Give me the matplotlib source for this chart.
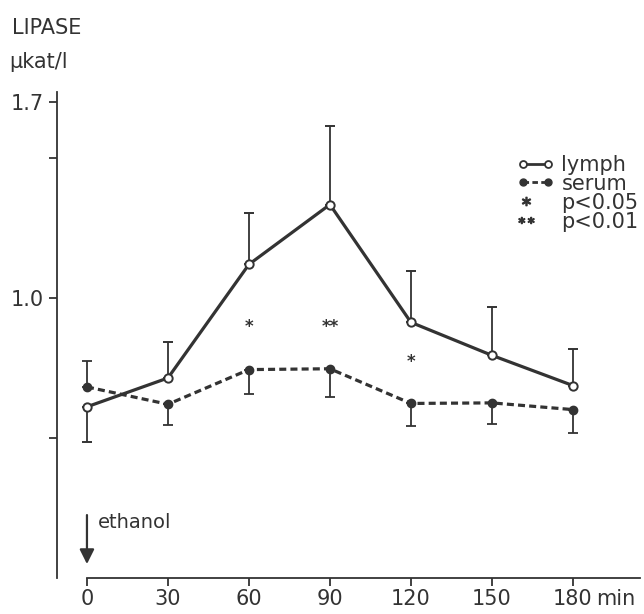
import matplotlib.pyplot as plt
from matplotlib.lines import Line2D
from matplotlib.legend_handler import HandlerLine2D

# values (min after ethanol, lipase in ukat/l)
minutes = [0, 30, 60, 90, 120, 150, 180]
lymph = [0.612, 0.715, 1.121, 1.335, 0.914, 0.796, 0.688]
lymph_lo = [0.126, 0, 0, 0, 0, 0, 0]
lymph_hi = [0, 0.129, 0.184, 0.280, 0.182, 0.173, 0.132]
serum = [0.683, 0.621, 0.745, 0.748, 0.624, 0.626, 0.602]
serum_lo = [0, 0.075, 0.089, 0.100, 0.081, 0.076, 0.082]
serum_hi = [0.093, 0, 0, 0, 0, 0, 0]

# significance marks
star_x = [60, 90, 120]
star_y = [0.898, 0.898, 0.773]
star_lbl = ['*', '**', '*']

plt.rcParams['font.family'] = ['DejaVu Sans']
ink = '#333333'


# legend handler that puts a single marker at the left of the handle
class LeftMark(HandlerLine2D):
    def get_xdata(self, legend, xdescent, ydescent, width, height, fontsize):
        x = [-xdescent + 0.25 * width]
        return x, x


fig = plt.figure(figsize=(6.44, 6.14), dpi=100)
ax = fig.add_axes([0.0885, 0.0586, 0.905, 0.791])
ax.set_xlim(-11.1, 204.8)
ax.set_ylim(0, 1.736)

# lymph: solid with open circles
ax.errorbar(minutes, lymph, yerr=[lymph_lo, lymph_hi], color=ink, lw=2.3,
            marker='o', ms=6, mfc='white', mec=ink, mew=1.4,
            elinewidth=1.3, capsize=3.5, capthick=1.3, zorder=3)
# serum: dashed with filled circles
ax.errorbar(minutes, serum, yerr=[serum_lo, serum_hi], color=ink, lw=2.3,
            ls=(0, (2.2, 1.3)), marker='o', ms=6, mfc=ink, mec=ink,
            elinewidth=1.3, capsize=3.5, capthick=1.3, zorder=3)

for x, y, s in zip(star_x, star_y, star_lbl):
    ax.text(x, y, s, ha='center', va='center', fontsize=12, color=ink,
            fontweight='bold')

# ethanol arrow at time 0
ax.annotate('', xy=(0, 0.04), xytext=(0, 0.235),
            arrowprops=dict(arrowstyle='-|>', color=ink, lw=1.6,
                            mutation_scale=22))
ax.text(4, 0.2, 'ethanol', fontsize=14, color=ink, va='center')

# axes look
for side in ['top', 'right']:
    ax.spines[side].set_visible(False)
ax.spines['left'].set_color(ink)
ax.spines['bottom'].set_color(ink)
ax.spines['left'].set_linewidth(1.3)
ax.spines['bottom'].set_linewidth(1.3)
ax.spines['bottom'].set_bounds(0, 204.8)

ax.set_xticks(minutes)
ax.set_xticklabels([str(m) for m in minutes])
ax.set_yticks([0.5, 1.0, 1.5, 1.7])
ax.set_yticklabels(['', '1.0', '', '1.7'])
ax.tick_params(colors=ink, labelsize=15, width=1.3, length=6, direction='out')
ax.tick_params(axis='x', pad=2)
ax.annotate('min', xy=(180, 0), xycoords='data', xytext=(17, -8),
            textcoords='offset points', ha='left', va='top', fontsize=15,
            color=ink, annotation_clip=False)

fig.text(0.018, 0.945, 'LIPASE', fontsize=15, color=ink)
fig.text(0.015, 0.89, 'µkat/l', fontsize=15, color=ink)

handles = [
    Line2D([], [], color=ink, lw=2, marker='o', ms=5, mfc='white', mew=1.3),
    Line2D([], [], color=ink, lw=2, ls=(0, (2, 1.2)), marker='o', ms=5,
           mfc=ink),
    Line2D([], [], ls='none', marker='$*$', ms=6, color=ink),
    Line2D([], [], ls='none', marker='$**$', ms=11, color=ink),
]
one = LeftMark(numpoints=1)
leg = ax.legend(handles, ['lymph', 'serum', 'p<0.05', 'p<0.01'],
                loc='upper right', bbox_to_anchor=(1.03, 0.91), frameon=False,
                fontsize=15, handlelength=1.8, handletextpad=0.35,
                labelspacing=-0.05, numpoints=2,
                handler_map={handles[2]: one, handles[3]: one})
for t in leg.get_texts():
    t.set_color(ink)

fig.savefig('out.png', dpi=100)
